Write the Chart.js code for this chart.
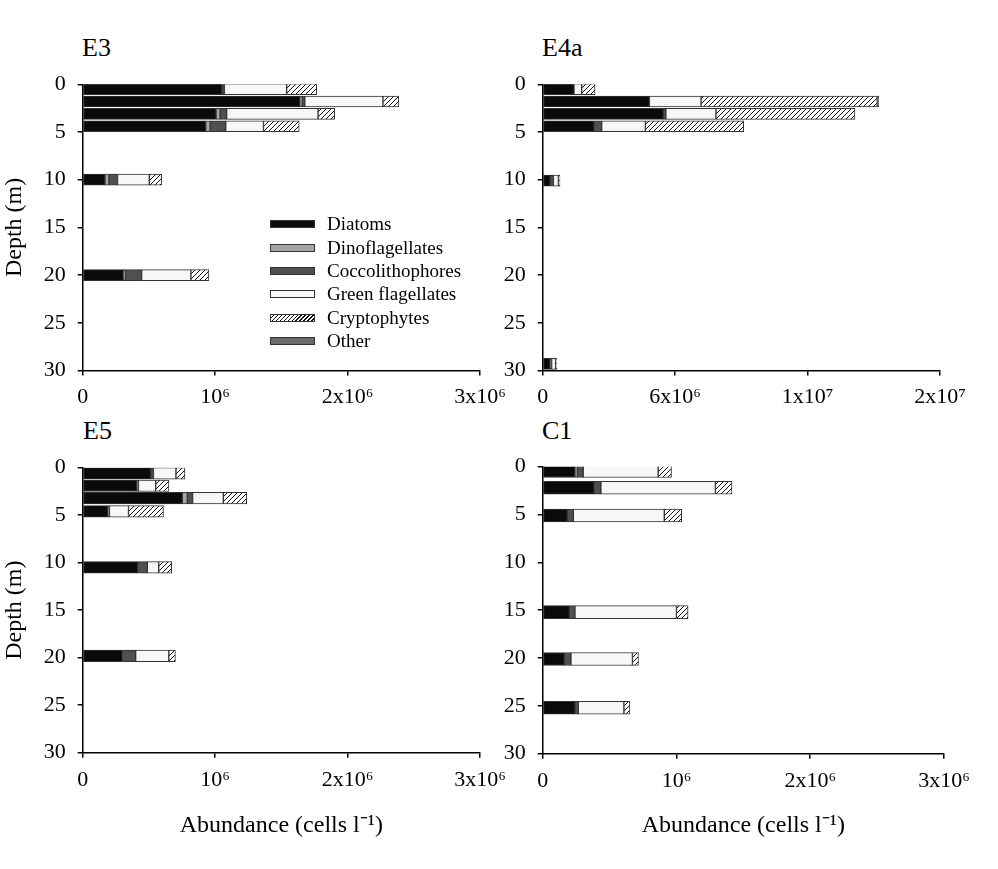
<!DOCTYPE html>
<html><head><meta charset="utf-8">
<script src="https://cdn.jsdelivr.net/npm/chart.js@4.4.0/dist/chart.umd.min.js"></script>
<style>
html,body{margin:0;padding:0;background:#fff;}
body{width:998px;height:869px;position:relative;overflow:hidden;font-family:'Liberation Serif','Times New Roman',serif;color:#000;}
canvas{position:absolute;}
.ptitle{position:absolute;font-size:26px;line-height:26px;}
#legend{position:absolute;left:270px;top:212.6px;}
.row{height:23.4px;display:flex;align-items:center;font-size:19px;white-space:nowrap;}
.sw{width:43px;height:6px;border:1px solid #333;margin-right:12px;flex:none;}
</style></head><body>
<div class="ptitle" style="left:82px;top:35px">E3</div>
<div class="ptitle" style="left:542px;top:35px">E4a</div>
<div class="ptitle" style="left:83px;top:418px">E5</div>
<div class="ptitle" style="left:542px;top:418px">C1</div>
<canvas id="cE3" width="530" height="400" style="left:0;top:30px"></canvas>
<canvas id="cE4a" width="530" height="400" style="left:460px;top:30px"></canvas>
<canvas id="cE5" width="530" height="420" style="left:0;top:420px"></canvas>
<canvas id="cC1" width="530" height="420" style="left:460px;top:420px"></canvas>
<div id="legend"></div>
<script>
// ---- data (cells per litre) ----
const groups = ['Diatoms','Dinoflagellates','Coccolithophores','Green flagellates','Cryptophytes','Other'];

const e3Depths = [0.5, 1.8, 3.1, 4.4, 10, 20];
const e3Diatoms = [1.05e6, 1.64e6, 1.007e6, 0.929e6, 0.168e6, 0.307e6];
const e3Dino    = [0, 0.017e6, 0.03e6, 0.033e6, 0.03e6, 0.012e6];
const e3Cocco   = [0.02e6, 0.02e6, 0.05e6, 0.118e6, 0.065e6, 0.126e6];
const e3Green   = [0.47e6, 0.59e6, 0.69e6, 0.285e6, 0.24e6, 0.372e6];
const e3Crypto  = [0.227e6, 0.12e6, 0.126e6, 0.27e6, 0.093e6, 0.136e6];
const e3Other   = [0, 0, 0, 0, 0, 0];

const e4aDepths = [0.5, 1.8, 3.1, 4.4, 10.1, 29.3];
const e4aDiatoms = [1.575e6, 5.37e6, 6.07e6, 2.58e6, 0.37e6, 0.37e6];
const e4aDino    = [0, 0, 0, 0, 0, 0];
const e4aCocco   = [0, 0, 0.13e6, 0.39e6, 0.17e6, 0.08e6];
const e4aGreen   = [0.39e6, 2.6e6, 2.52e6, 2.2e6, 0.25e6, 0.2e6];
const e4aCrypto  = [0.67e6, 8.87e6, 7.0e6, 4.95e6, 0.08e6, 0.05e6];
const e4aOther   = [0, 0.07e6, 0, 0, 0, 0];

const e5Depths = [0.6, 1.9, 3.2, 4.6, 10.5, 19.8];
const e5Diatoms = [0.514e6, 0.408e6, 0.752e6, 0.189e6, 0.415e6, 0.3e6];
const e5Dino    = [0, 0, 0.038e6, 0, 0, 0];
const e5Cocco   = [0.02e6, 0.013e6, 0.04e6, 0.013e6, 0.073e6, 0.1e6];
const e5Green   = [0.17e6, 0.13e6, 0.232e6, 0.144e6, 0.086e6, 0.25e6];
const e5Crypto  = [0.068e6, 0.1e6, 0.176e6, 0.264e6, 0.098e6, 0.05e6];
const e5Other   = [0, 0, 0, 0, 0, 0];

const c1Depths = [0.45, 2.2, 5.1, 15.2, 20.1, 25.2];
const c1Diatoms = [0.241e6, 0.383e6, 0.184e6, 0.199e6, 0.161e6, 0.241e6];
const c1Dino    = [0.017e6, 0, 0, 0, 0, 0];
const c1Cocco   = [0.045e6, 0.052e6, 0.045e6, 0.042e6, 0.05e6, 0.025e6];
const c1Green   = [0.56e6, 0.856e6, 0.68e6, 0.759e6, 0.46e6, 0.341e6];
const c1Crypto  = [0.1e6, 0.124e6, 0.13e6, 0.087e6, 0.045e6, 0.045e6];
const c1Other   = [0, 0, 0, 0, 0, 0];

const xLabels3e6 = ['0', '10⁶', '2x10⁶', '3x10⁶'];
const xLabels2e7 = ['0', '6x10⁶', '1x10⁷', '2x10⁷'];
const depthTicks = [0, 5, 10, 15, 20, 25, 30];

// ---- styling ----
const FONT = "'Liberation Serif', 'Times New Roman', serif";
Chart.defaults.font.family = FONT;
Chart.defaults.color = '#000';

function hatch() {
  const c = document.createElement('canvas'); c.width = 5; c.height = 5;
  const g = c.getContext('2d');
  g.fillStyle = '#fff'; g.fillRect(0, 0, 5, 5);
  g.strokeStyle = '#111'; g.lineWidth = 1;
  g.beginPath();
  g.moveTo(0, 5); g.lineTo(5, 0);
  g.moveTo(-1, 1); g.lineTo(1, -1);
  g.moveTo(4, 6); g.lineTo(6, 4);
  g.stroke();
  return g.createPattern(c, 'repeat');
}
const fills = ['#0a0a0a', '#a6a6a6', '#505050', '#f7f7f7', hatch(), '#6b6b6b'];
const cssFills = ['#0a0a0a', '#a6a6a6', '#505050', '#f7f7f7',
  'repeating-linear-gradient(135deg,#fff 0 1.6px,#111 1.6px 2.8px)', '#6b6b6b'];

function makePanel(id, p) {
  const datasets = groups.map((g, k) => ({
    label: g,
    data: p.depths.map((d, i) => ({ x: p.series[k][i], y: d })).filter(pt => pt.x > 0),
    backgroundColor: fills[k],
    borderColor: '#333',
    borderWidth: 1,
    borderSkipped: false,
    barThickness: p.thick
  }));
  new Chart(document.getElementById(id), {
    type: 'bar',
    data: { datasets },
    options: {
      indexAxis: 'y',
      responsive: false,
      animation: false,
      layout: { padding: { top: p.padTop, right: p.padRight, left: 0, bottom: 0 } },
      plugins: { legend: { display: false }, tooltip: { enabled: false } },
      scales: {
        x: {
          type: 'linear', stacked: true, min: 0, max: p.xMax,
          ticks: { count: 4, autoSkip: false, maxRotation: 0, padding: 9,
                   font: { size: 22 }, color: '#000',
                   callback: (v, i) => p.xLabels[i] },
          grid: { display: true, drawOnChartArea: false, drawTicks: true, tickLength: 5, color: '#000', lineWidth: 1.5 },
          border: { display: true, color: '#000', width: 1.5 },
          title: { display: p.xTitle, text: 'Abundance (cells l⁻¹)', font: { size: 24 }, color: '#000', padding: 0 },
          afterFit: s => { s.height = p.xH; }
        },
        y: {
          type: 'linear', stacked: true, reverse: true, min: 0, max: 30,
          offset: false,
          afterBuildTicks: s => { s.ticks = depthTicks.map(v => ({ value: v })); },
          ticks: { padding: 12, font: { size: 22 }, color: '#000' },
          grid: { display: true, offset: false, drawOnChartArea: false, drawTicks: true, tickLength: 5, color: '#000', lineWidth: 1.5 },
          border: { display: true, color: '#000', width: 1.5 },
          title: { display: p.yTitle, text: 'Depth (m)', font: { size: 24 }, color: '#000', padding: 0 },
          afterFit: s => { s.width = 82.7; }
        }
      }
    }
  });
}

makePanel('cE3', { depths: e3Depths, series: [e3Diatoms, e3Dino, e3Cocco, e3Green, e3Crypto, e3Other],
  xMax: 3e6, xLabels: xLabels3e6, padTop: 54.3, padRight: 50, xH: 59.5, thick: 11, xTitle: false, yTitle: true });
makePanel('cE4a', { depths: e4aDepths, series: [e4aDiatoms, e4aDino, e4aCocco, e4aGreen, e4aCrypto, e4aOther],
  xMax: 2e7, xLabels: xLabels2e7, padTop: 54.3, padRight: 50, xH: 59.5, thick: 11, xTitle: false, yTitle: false });
makePanel('cE5', { depths: e5Depths, series: [e5Diatoms, e5Dino, e5Cocco, e5Green, e5Crypto, e5Other],
  xMax: 3e6, xLabels: xLabels3e6, padTop: 47.7, padRight: 50, xH: 87.3, thick: 11.5, xTitle: true, yTitle: true });
makePanel('cC1', { depths: c1Depths, series: [c1Diatoms, c1Dino, c1Cocco, c1Green, c1Crypto, c1Other],
  xMax: 3e6, xLabels: xLabels3e6, padTop: 46.7, padRight: 46, xH: 86.3, thick: 13, xTitle: true, yTitle: false });

// legend (inside the E3 panel)
const leg = document.getElementById('legend');
groups.forEach((g, k) => {
  const row = document.createElement('div'); row.className = 'row';
  const sw = document.createElement('span'); sw.className = 'sw'; sw.style.background = cssFills[k];
  const tx = document.createElement('span'); tx.textContent = g;
  row.appendChild(sw); row.appendChild(tx); leg.appendChild(row);
});
</script>
</body></html>
